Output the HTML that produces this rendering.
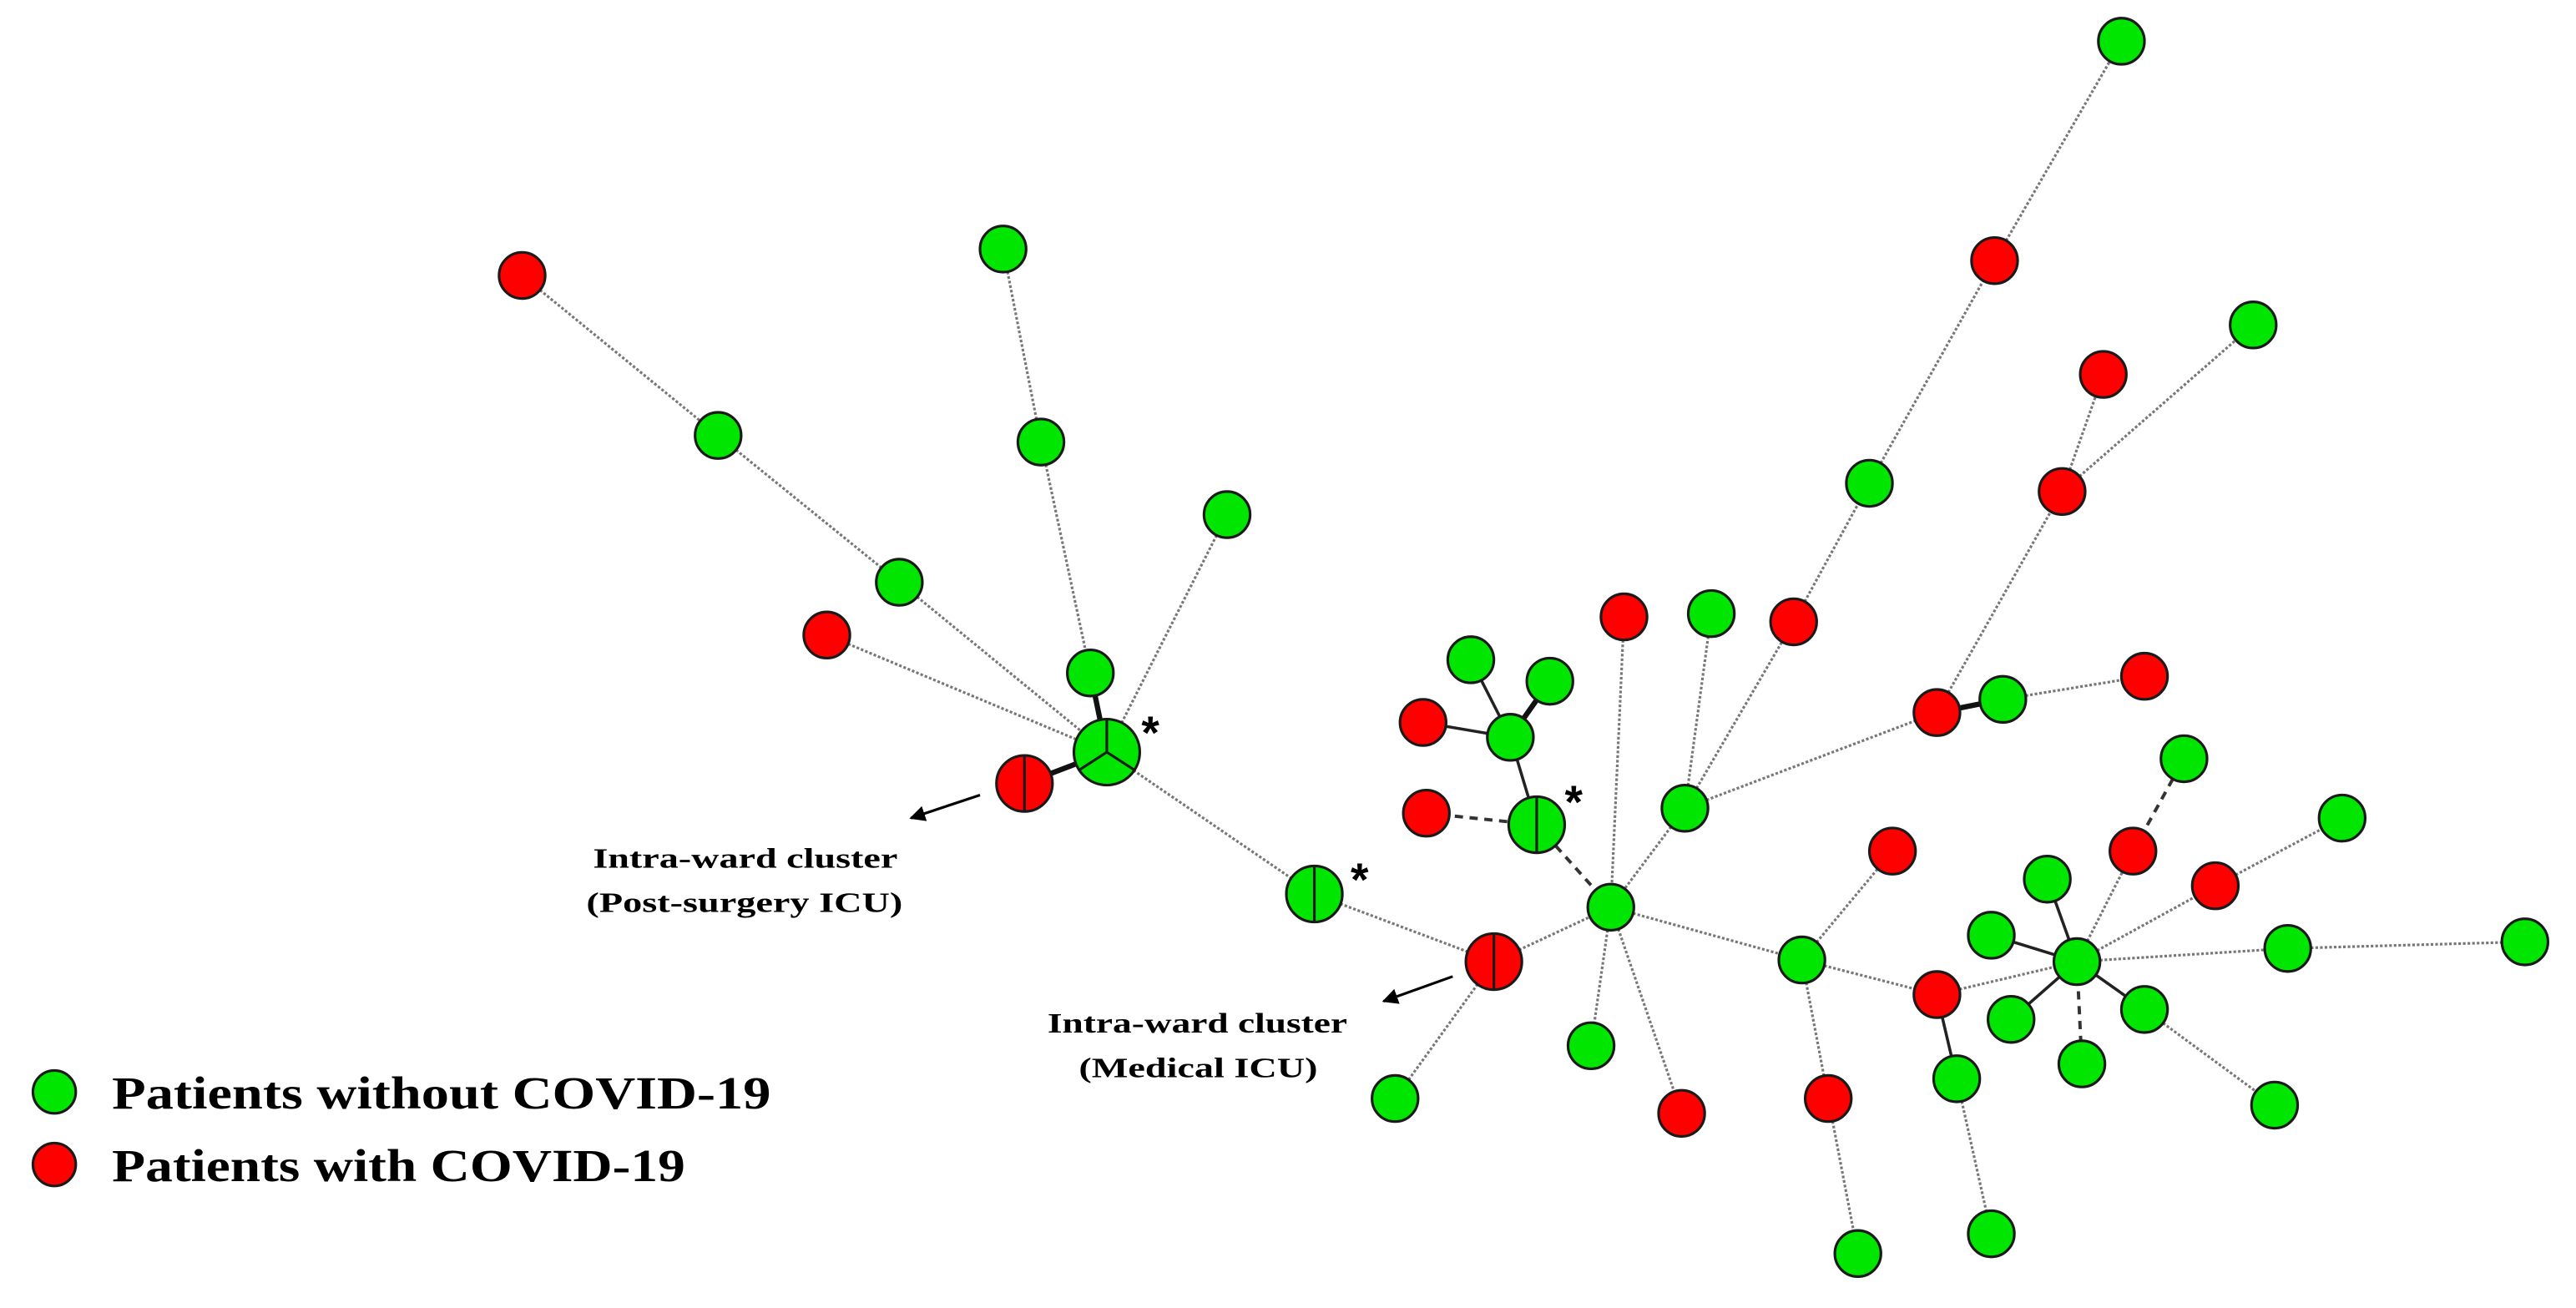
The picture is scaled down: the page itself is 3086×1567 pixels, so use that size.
<!DOCTYPE html>
<html><head><meta charset="utf-8"><style>html,body{margin:0;padding:0;background:#fff;}svg{display:block}</style></head>
<body>
<svg width="3086" height="1567" viewBox="0 0 1564 793" preserveAspectRatio="none" xmlns="http://www.w3.org/2000/svg">
<defs>
<marker id="ar" viewBox="0 0 10 10" refX="9" refY="5" markerWidth="6" markerHeight="6" orient="auto"><path d="M0,0 L10,5 L0,10 z" fill="#000"/></marker>
</defs>
<g stroke="#777" stroke-width="1.6" stroke-dasharray="1.6 1.2" fill="none">
<line x1="317" y1="167" x2="436" y2="264"/>
<line x1="436" y1="264" x2="546" y2="353"/>
<line x1="546" y1="353" x2="672" y2="456"/>
<line x1="502" y1="385" x2="672" y2="456"/>
<line x1="609" y1="151" x2="632" y2="268"/>
<line x1="632" y1="268" x2="662" y2="408"/>
<line x1="745" y1="312" x2="672" y2="456"/>
<line x1="672" y1="456" x2="798" y2="542"/>
<line x1="798" y1="542" x2="907" y2="583"/>
<line x1="907" y1="583" x2="847" y2="666"/>
<line x1="907" y1="583" x2="978" y2="550"/>
<line x1="986" y1="374" x2="978" y2="550"/>
<line x1="1039" y1="372" x2="1023" y2="490"/>
<line x1="1023" y1="490" x2="978" y2="550"/>
<line x1="1023" y1="490" x2="1089" y2="377"/>
<line x1="1089" y1="377" x2="1135" y2="293"/>
<line x1="1135" y1="293" x2="1211" y2="158"/>
<line x1="1211" y1="158" x2="1288" y2="25"/>
<line x1="1023" y1="490" x2="1176" y2="432"/>
<line x1="1216" y1="424" x2="1302" y2="410"/>
<line x1="1176" y1="432" x2="1252" y2="298"/>
<line x1="1252" y1="298" x2="1277" y2="227"/>
<line x1="1252" y1="298" x2="1368" y2="197"/>
<line x1="978" y1="550" x2="966" y2="634"/>
<line x1="978" y1="550" x2="1021" y2="675"/>
<line x1="978" y1="550" x2="1094" y2="582"/>
<line x1="1094" y1="582" x2="1149" y2="516"/>
<line x1="1094" y1="582" x2="1176" y2="603"/>
<line x1="1094" y1="582" x2="1110" y2="666"/>
<line x1="1110" y1="666" x2="1128" y2="760"/>
<line x1="1188" y1="654" x2="1209" y2="748"/>
<line x1="1176" y1="603" x2="1261" y2="583"/>
<line x1="1261" y1="583" x2="1295" y2="516"/>
<line x1="1261" y1="583" x2="1345" y2="537"/>
<line x1="1345" y1="537" x2="1422" y2="496"/>
<line x1="1261" y1="583" x2="1389" y2="575"/>
<line x1="1389" y1="575" x2="1533" y2="571"/>
<line x1="1302" y1="612" x2="1381" y2="670"/>
</g>
<g stroke="#333" stroke-width="2" stroke-dasharray="5 4" fill="none">
<line x1="978" y1="550" x2="933" y2="500"/>
<line x1="933" y1="500" x2="866" y2="493"/>
<line x1="1295" y1="516" x2="1326" y2="460"/>
<line x1="1261" y1="583" x2="1264" y2="645"/>
</g>
<g stroke="#222" stroke-width="1.8" fill="none">
<line x1="933" y1="500" x2="917" y2="447"/>
<line x1="917" y1="447" x2="864" y2="438"/>
<line x1="917" y1="447" x2="893" y2="400"/>
<line x1="1176" y1="603" x2="1188" y2="654"/>
<line x1="1261" y1="583" x2="1243" y2="533"/>
<line x1="1261" y1="583" x2="1209" y2="567"/>
<line x1="1261" y1="583" x2="1221" y2="618"/>
<line x1="1261" y1="583" x2="1302" y2="612"/>
</g>
<g stroke="#111" stroke-width="3.2" fill="none">
<line x1="662" y1="408" x2="672" y2="456"/>
<line x1="622" y1="475" x2="672" y2="456"/>
<line x1="917" y1="447" x2="941" y2="413"/>
<line x1="1176" y1="432" x2="1216" y2="424"/>
</g>
<g stroke="#1a1a1a" stroke-width="1.6" fill="#00e600">
<circle cx="436" cy="264" r="14"/><circle cx="546" cy="353" r="14"/><circle cx="609" cy="151" r="14"/>
<circle cx="632" cy="268" r="14"/><circle cx="745" cy="312" r="14"/><circle cx="662" cy="408" r="14"/>
<circle cx="847" cy="666" r="14"/><circle cx="978" cy="550" r="14"/><circle cx="917" cy="447" r="14"/>
<circle cx="893" cy="400" r="14"/><circle cx="941" cy="413" r="14"/><circle cx="1039" cy="372" r="14"/>
<circle cx="1023" cy="490" r="14"/><circle cx="1135" cy="293" r="14"/><circle cx="1288" cy="25" r="14"/>
<circle cx="1216" cy="424" r="14"/><circle cx="1368" cy="197" r="14"/><circle cx="966" cy="634" r="14"/>
<circle cx="1094" cy="582" r="14"/><circle cx="1128" cy="760" r="14"/><circle cx="1188" cy="654" r="14"/>
<circle cx="1209" cy="748" r="14"/><circle cx="1261" cy="583" r="14"/><circle cx="1243" cy="533" r="14"/>
<circle cx="1209" cy="567" r="14"/><circle cx="1221" cy="618" r="14"/><circle cx="1264" cy="645" r="14"/>
<circle cx="1302" cy="612" r="14"/><circle cx="1381" cy="670" r="14"/><circle cx="1326" cy="460" r="14"/>
<circle cx="1422" cy="496" r="14"/><circle cx="1389" cy="575" r="14"/><circle cx="1533" cy="571" r="14"/>
<circle cx="33" cy="662" r="13"/>
</g>
<g stroke="#1a1a1a" stroke-width="1.6" fill="#ff0000">
<circle cx="317" cy="167" r="14"/><circle cx="502" cy="385" r="14"/><circle cx="866" cy="493" r="14"/>
<circle cx="864" cy="438" r="14"/><circle cx="986" cy="374" r="14"/><circle cx="1089" cy="377" r="14"/>
<circle cx="1211" cy="158" r="14"/><circle cx="1176" cy="432" r="14"/><circle cx="1302" cy="410" r="14"/>
<circle cx="1252" cy="298" r="14"/><circle cx="1277" cy="227" r="14"/><circle cx="1021" cy="675" r="14"/>
<circle cx="1149" cy="516" r="14"/><circle cx="1176" cy="603" r="14"/><circle cx="1110" cy="666" r="14"/>
<circle cx="1295" cy="516" r="14"/><circle cx="1345" cy="537" r="14"/>
<circle cx="33" cy="706" r="13"/>
</g>
<g stroke="#1a1a1a" stroke-width="1.6">
<circle cx="672" cy="456" r="20" fill="#00e600"/>
<line x1="672" y1="436" x2="672" y2="456"/><line x1="672" y1="456" x2="655" y2="467"/><line x1="672" y1="456" x2="689" y2="467"/>
<circle cx="622" cy="475" r="17" fill="#ff0000"/><line x1="622" y1="458" x2="622" y2="492"/>
<circle cx="798" cy="542" r="17" fill="#00e600"/><line x1="798" y1="525" x2="798" y2="559"/>
<circle cx="907" cy="583" r="17" fill="#ff0000"/><line x1="907" y1="566" x2="907" y2="600"/>
<circle cx="933" cy="500" r="17" fill="#00e600"/><line x1="933" y1="483" x2="933" y2="517"/>
</g>
<g font-family="'Liberation Sans', sans-serif" font-size="28" font-weight="bold" fill="#000">
<text x="693" y="454">*</text><text x="820" y="543">*</text><text x="950" y="496">*</text>
</g>
<g stroke="#000" stroke-width="1.6" marker-end="url(#ar)">
<line x1="595" y1="482" x2="553" y2="496"/>
<line x1="882" y1="592" x2="840" y2="607"/>
</g>
<g font-family="'Liberation Serif', serif" font-weight="bold" fill="#000" font-size="17">
<text x="360" y="526" textLength="185" lengthAdjust="spacingAndGlyphs">Intra-ward cluster</text>
<text x="356" y="553" textLength="192" lengthAdjust="spacingAndGlyphs">(Post-surgery ICU)</text>
<text x="636" y="626" textLength="182" lengthAdjust="spacingAndGlyphs">Intra-ward cluster</text>
<text x="655" y="653" textLength="145" lengthAdjust="spacingAndGlyphs">(Medical ICU)</text>
</g>
<g font-family="'Liberation Serif', serif" font-weight="bold" fill="#000" font-size="28">
<text x="68" y="672" textLength="400" lengthAdjust="spacingAndGlyphs">Patients without  COVID-19</text>
<text x="68" y="716" textLength="348" lengthAdjust="spacingAndGlyphs">Patients with COVID-19</text>
</g>
</svg>
</body></html>
